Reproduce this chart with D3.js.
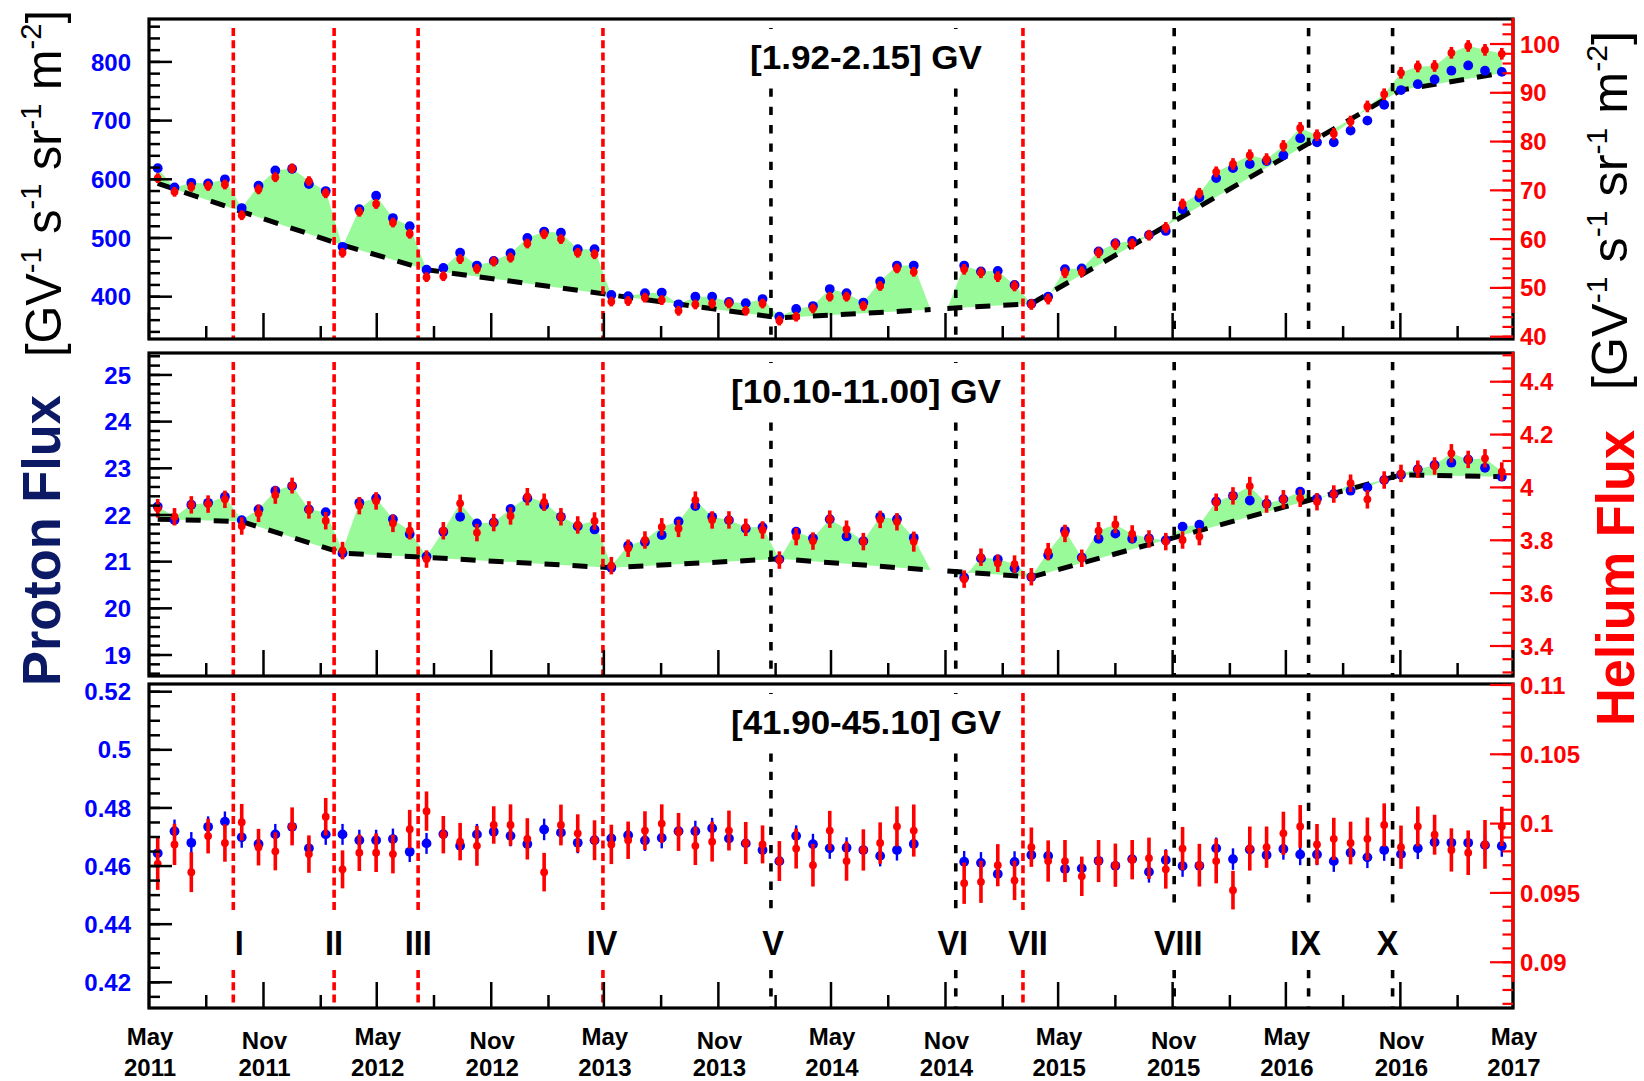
<!DOCTYPE html>
<html>
<head>
<meta charset="utf-8">
<script src="https://cdn.jsdelivr.net/npm/d3@7"></script>
<style>
  html, body { margin: 0; padding: 0; background: #fff; }
  svg { display: block; font-family: "Liberation Sans", Arial, Helvetica, sans-serif; }
</style>
</head>
<body>
<svg id="chart" width="1644" height="1081"></svg>
<script>
// Bartels rotations with measurements (2472 and 2473 are missing)
const rotations = [
  2426,2427,2428,2429,2430,2431,2432,2433,2434,2435,
  2436,2437,2438,2439,2440,2441,2442,2443,2444,2445,
  2446,2447,2448,2449,2450,2451,2452,2453,2454,2455,
  2456,2457,2458,2459,2460,2461,2462,2463,2464,2465,
  2466,2467,2468,2469,2470,2471,
  2474,2475,2476,2477,2478,2479,2480,2481,2482,2483,
  2484,2485,2486,2487,2488,2489,2490,2491,2492,2493,
  2494,2495,2496,2497,2498,2499,2500,2501,2502,2503,
  2504,2505,2506
];

const rigidityBins = ["[1.92-2.15] GV", "[10.10-11.00] GV", "[41.90-45.10] GV"];

// [1.92-2.15] GV
const protonLow = [
  619,586,594,593,600,551,589,615,618,592,
  580,485,549,572,534,520,446,449,475,453,
  461,474,500,511,509,481,481,403,401,406,
  407,387,400,400,391,389,396,366,379,384,
  413,406,390,426,453,453,
  453,443,444,420,388,400,447,448,477,491,
  495,505,512,549,569,602,619,626,631,641,
  670,663,663,683,700,727,752,762,770,785,
  794,785,783
];
const heliumLow = [
  72.5,69.7,70.7,70.9,71.2,64.9,70.2,72.7,74.5,71.9,
  69.4,57.2,65.6,67.2,63.4,61.1,52.2,52.4,55.9,53.9,
  55.4,56.2,59.1,61.0,60.0,57.2,56.9,47.2,47.3,48.0,
  47.5,45.3,46.6,46.8,46.8,45.3,46.8,43.3,44.1,45.8,
  48.2,48.2,46.3,50.4,54.0,53.3,
  53.8,53.1,52.3,50.4,46.6,47.7,53.1,53.3,57.2,58.9,
  59.0,60.8,62.4,67.2,69.4,73.8,75.4,77.2,76.4,79.1,
  82.8,81.3,81.6,84.1,87.2,89.7,94.1,95.4,95.5,98.2,
  99.6,98.8,98.0
];
const heliumLowErr = [
  1.0,1.0,1.0,1.0,1.0,1.0,1.0,1.0,1.0,1.0,
  1.0,1.0,1.0,1.0,1.0,1.0,1.0,1.0,1.0,1.0,
  1.0,1.0,1.0,1.0,1.0,1.0,1.0,1.0,1.0,1.0,
  1.0,1.0,1.0,1.0,1.0,1.0,1.0,1.0,1.0,1.0,
  1.0,1.0,1.0,1.0,1.0,1.0,
  1.1,1.1,1.1,1.1,1.1,1.1,1.1,1.1,1.1,1.1,
  1.1,1.1,1.1,1.1,1.1,1.1,1.2,1.2,1.2,1.2,
  1.2,1.2,1.2,1.2,1.2,1.2,1.2,1.2,1.2,1.2,
  1.2,1.2,1.2
];

// [10.10-11.00] GV
const protonMid = [
  22.18,21.89,22.22,22.26,22.39,21.89,22.12,22.52,22.62,22.12,
  22.06,21.18,22.26,22.36,21.91,21.59,21.11,21.64,21.96,21.82,
  21.84,22.13,22.36,22.21,21.96,21.76,21.69,20.87,21.34,21.42,
  21.57,21.86,22.19,21.96,21.89,21.71,21.74,21.05,21.64,21.50,
  21.91,21.54,21.44,21.96,21.91,21.51,
  20.66,21.07,21.05,20.86,20.67,21.14,21.66,21.09,21.49,21.60,
  21.49,21.50,21.46,21.75,21.79,22.29,22.41,22.31,22.24,22.34,
  22.50,22.35,22.45,22.52,22.59,22.75,22.86,22.98,23.07,23.12,
  23.19,23.01,22.82
];
const heliumMid = [
  3.921,3.889,3.934,3.937,3.955,3.854,3.902,3.971,4.007,3.915,
  3.874,3.761,3.931,3.949,3.864,3.836,3.729,3.836,3.940,3.829,
  3.867,3.892,3.965,3.944,3.889,3.858,3.873,3.704,3.770,3.801,
  3.851,3.845,3.952,3.877,3.877,3.849,3.839,3.725,3.814,3.797,
  3.880,3.842,3.795,3.879,3.870,3.795,
  3.653,3.736,3.713,3.710,3.662,3.757,3.826,3.732,3.836,3.860,
  3.824,3.805,3.795,3.801,3.814,3.944,3.968,4.005,3.937,3.955,
  3.959,3.946,3.975,4.016,3.955,4.028,4.053,4.069,4.081,4.129,
  4.106,4.110,4.060
];
const heliumMidErr = [
  0.035,0.033,0.033,0.033,0.033,0.033,0.033,0.033,0.030,0.033,
  0.033,0.033,0.033,0.033,0.033,0.033,0.033,0.033,0.033,0.033,
  0.033,0.033,0.033,0.033,0.033,0.033,0.033,0.033,0.033,0.033,
  0.033,0.033,0.033,0.033,0.033,0.033,0.033,0.033,0.033,0.033,
  0.033,0.033,0.033,0.033,0.033,0.038,
  0.033,0.033,0.033,0.033,0.033,0.033,0.033,0.033,0.033,0.033,
  0.033,0.033,0.033,0.033,0.033,0.033,0.033,0.035,0.033,0.035,
  0.033,0.033,0.033,0.033,0.035,0.033,0.033,0.033,0.033,0.035,
  0.033,0.035,0.035
];

// [41.90-45.10] GV
const protonHigh = [
  0.4644,0.4720,0.4680,0.4735,0.4753,0.4699,0.4676,0.4709,0.4735,0.4661,
  0.4709,0.4709,0.4689,0.4689,0.4693,0.4649,0.4678,0.4710,0.4670,0.4709,
  0.4718,0.4704,0.4676,0.4726,0.4715,0.4680,0.4689,0.4695,0.4706,0.4688,
  0.4697,0.4720,0.4720,0.4730,0.4695,0.4678,0.4655,0.4617,0.4704,0.4675,
  0.4661,0.4663,0.4655,0.4635,0.4655,0.4676,
  0.4615,0.4611,0.4573,0.4614,0.4638,0.4635,0.4590,0.4592,0.4618,0.4601,
  0.4624,0.4580,0.4621,0.4600,0.4601,0.4661,0.4624,0.4657,0.4638,0.4659,
  0.4640,0.4640,0.4617,0.4646,0.4630,0.4655,0.4641,0.4661,0.4682,0.4680,
  0.4680,0.4672,0.4669
];
const protonHighErr = [
  0.0036,0.0040,0.0037,0.0036,0.0035,0.0036,0.0036,0.0036,0.0036,0.0036,
  0.0036,0.0036,0.0036,0.0036,0.0036,0.0035,0.0036,0.0036,0.0036,0.0036,
  0.0036,0.0036,0.0036,0.0037,0.0036,0.0036,0.0036,0.0036,0.0036,0.0036,
  0.0036,0.0036,0.0036,0.0036,0.0036,0.0036,0.0036,0.0036,0.0036,0.0036,
  0.0036,0.0036,0.0036,0.0036,0.0036,0.0036,
  0.0037,0.0037,0.0037,0.0037,0.0037,0.0037,0.0037,0.0037,0.0037,0.0037,
  0.0037,0.0037,0.0037,0.0037,0.0037,0.0037,0.0037,0.0037,0.0037,0.0037,
  0.0037,0.0037,0.0037,0.0037,0.0037,0.0037,0.0037,0.0037,0.0037,0.0037,
  0.0037,0.0037,0.0037
];
const heliumHigh = [
  0.0971,0.0985,0.0965,0.0991,0.0986,0.1001,0.0983,0.0980,0.0998,0.0978,
  0.1005,0.0967,0.0979,0.0979,0.0978,0.0996,0.1009,0.0992,0.0987,0.0984,
  0.0999,0.0999,0.0989,0.0965,0.0999,0.0993,0.0988,0.0985,0.0988,0.0995,
  0.1000,0.0994,0.0984,0.0987,0.0995,0.0986,0.0985,0.0973,0.0982,0.0970,
  0.0995,0.0973,0.0981,0.0986,0.0998,0.0995,
  0.0957,0.0958,0.0970,0.0959,0.0983,0.0973,0.0973,0.0962,0.0973,0.0970,
  0.0974,0.0975,0.0967,0.0982,0.0970,0.0973,0.0952,0.0982,0.0983,0.0993,
  0.0998,0.0985,0.0989,0.0986,0.0989,0.0999,0.0983,0.0998,0.0992,0.0981,
  0.0979,0.0985,0.0998
];
const heliumHighErr = [
  0.00188,0.00149,0.00144,0.00125,0.00135,0.00132,0.00132,0.00137,0.00137,0.00135,
  0.00135,0.00137,0.00132,0.00139,0.00139,0.00139,0.00142,0.00135,0.00135,0.00144,
  0.00135,0.00149,0.00149,0.00139,0.00147,0.00137,0.00144,0.00142,0.00135,0.00139,
  0.00139,0.00137,0.00139,0.00144,0.00144,0.00152,0.00137,0.00144,0.00144,0.00154,
  0.00142,0.00142,0.00149,0.00149,0.00144,0.00188,
  0.00149,0.00152,0.00152,0.00142,0.00142,0.00149,0.00152,0.00142,0.00152,0.00156,
  0.00142,0.00149,0.00139,0.00156,0.00154,0.00161,0.00139,0.00159,0.00149,0.00156,
  0.00154,0.00147,0.00152,0.00154,0.00154,0.00156,0.00156,0.00144,0.00144,0.00156,
  0.00161,0.00176,0.00142
];

// Proton reference trend (black dashed) at its break points, in proton units
const baseRotations = [2426, 2431, 2437, 2442, 2453, 2463, 2472, 2473, 2478, 2500, 2506];
const baselineLow = [593, 545, 488, 446, 403, 364, 378, 380, 388, 752, 781];
const baselineMid = [21.91, 21.86, 21.18, 21.09, 20.87, 21.06, 20.82, 20.80, 20.67, 22.86, 22.82];

// Shaded structures between consecutive break points
const bandSegments = [
  [2426, 2431], [2431, 2437], [2437, 2442], [2442, 2453],
  [2453, 2463], [2463, 2472], [2473, 2478], [2478, 2506]
];

// Marked time boundaries
const eventRotations = [2430.5, 2436.5, 2441.5, 2452.5, 2462.5, 2473.5, 2477.5, 2486.5, 2494.5, 2499.5];
const eventLabels = ["I", "II", "III", "IV", "V", "VI", "VII", "VIII", "IX", "X"];
const eventColors = ["red", "red", "red", "red", "black", "black", "red", "black", "black", "black"];

// ---------------------------------------------------------------------------
const DAY = 86400000;
const BLUE = "#0000ff", RED = "#ff0000", GREEN = "#99fa99";
const bartelsDate = br => new Date(Date.UTC(1832, 1, 8) + 27 * (br - 1) * DAY);

const plotLeft = 149, plotRight = 1513;
const x = d3.scaleUtc()
  .domain([new Date(Date.UTC(2011, 4, 1)), new Date(Date.UTC(2017, 4, 1))])
  .range([plotLeft, plotRight]);
const xb = br => x(bartelsDate(br));

// horizontal nudges of the event labels relative to their boundary lines (px)
const labelNudge = [6, 0, 0, -1, 2, -3, 5, 4, -3, -5];

const svg = d3.select("#chart");

function stepValues(lo, hi, step) {
  const out = [];
  const i0 = Math.ceil(lo / step - 1e-6), i1 = Math.floor(hi / step + 1e-6);
  for (let i = i0; i <= i1; i++) out.push(+(i * step).toFixed(6));
  return out;
}

const panels = [
  { top: 19, bottom: 339, title: rigidityBins[0], titleWidth: 232,
    proton: protonLow, helium: heliumLow, protonErr: null, heliumErr: heliumLowErr, baseline: baselineLow,
    pDomain: [327.9, 873.1], pMajor: [400, 800, 100], pMinor: 20, pFormat: d3.format(".0f"),
    hDomain: [39.52, 105.13], hMajor: [40, 100, 10], hMinor: 2, hFormat: d3.format(".0f") },
  { top: 353, bottom: 676, title: rigidityBins[1], titleWidth: 270,
    proton: protonMid, helium: heliumMid, protonErr: null, heliumErr: heliumMidErr, baseline: baselineMid,
    pDomain: [18.55, 25.47], pMajor: [19, 25, 1], pMinor: 0.2, pFormat: d3.format(".0f"),
    hDomain: [3.2865, 4.5086], hMajor: [3.4, 4.4, 0.2], hMinor: 0.05, hFormat: d3.format(".1~f") },
  { top: 684, bottom: 1008, title: rigidityBins[2], titleWidth: 270,
    proton: protonHigh, helium: heliumHigh, protonErr: protonHighErr, heliumErr: heliumHighErr, baseline: null,
    pDomain: [0.41116, 0.52265], pMajor: [0.42, 0.52, 0.02], pMinor: 0.005, pFormat: d3.format(".2~f"),
    hDomain: [0.0867, 0.11007], hMajor: [0.09, 0.11, 0.005], hMinor: 0.001, hFormat: d3.format(".3~f") }
];

const titleCenter = 866;
const tickMonths = d3.utcMonth.range(new Date(Date.UTC(2011, 4, 1)), new Date(Date.UTC(2017, 4, 2)), 3);
const isMajorMonth = d => d.getUTCMonth() === 4 || d.getUTCMonth() === 10;

panels.forEach((p, pi) => {
  const g = svg.append("g");
  const yP = d3.scaleLinear().domain(p.pDomain).range([p.bottom, p.top]);
  const yH = d3.scaleLinear().domain(p.hDomain).range([p.bottom, p.top]);
  const titleBase = p.top + 49.5;
  const isLast = pi === panels.length - 1;

  // shaded structures and reference trend
  if (p.baseline) {
    const base = d3.scaleLinear().domain(baseRotations).range(p.baseline);
    const area = d3.area().x(d => d.x).y0(d => d.y0).y1(d => d.y1);
    bandSegments.forEach(([a, b]) => {
      const pts = d3.range(a, b + 1).map(br => {
        const i = rotations.indexOf(br);
        const yb = yP(base(br));
        const yt = i >= 0 ? Math.min(yP(p.proton[i]), yH(p.helium[i])) : yb;
        return { x: xb(br), y0: yb, y1: yt };
      });
      g.append("path").attr("d", area(pts)).attr("fill", GREEN);
    });
    const runs = [];
    bandSegments.forEach(([a, b]) => {
      const r = runs[runs.length - 1];
      if (r && r[1] === a) r[1] = b; else runs.push([a, b]);
    });
    const line = d3.line().x(br => xb(br)).y(br => yP(base(br)));
    runs.forEach(([a, b]) => {
      g.append("path")
        .attr("d", line(baseRotations.filter(br => br >= a && br <= b)))
        .attr("fill", "none").attr("stroke", "#000").attr("stroke-width", 5)
        .attr("stroke-dasharray", "15,13");
    });
  }

  // event boundaries, interrupted behind the title and the event labels
  eventRotations.forEach((br, ei) => {
    const ex = xb(br);
    const gaps = [];
    if (Math.abs(ex - titleCenter) < p.titleWidth / 2 + 6) gaps.push([titleBase - 39.5, titleBase + 20]);
    if (isLast) gaps.push([p.bottom - 98, p.bottom - 38]);
    gaps.sort((a, b) => a[0] - b[0]);
    let y0 = p.top + 9;
    const segs = [];
    gaps.forEach(([a, b]) => { if (a > y0) segs.push([y0, a]); y0 = Math.max(y0, b); });
    segs.push([y0, p.bottom]);
    const red = eventColors[ei] === "red";
    segs.forEach(([a, b]) => {
      g.append("line").attr("x1", ex).attr("x2", ex).attr("y1", a).attr("y2", b)
        .attr("stroke", red ? RED : "#000").attr("stroke-width", 3.6)
        .attr("stroke-dasharray", red ? "8,4.3" : "8.3,10");
    });
  });

  // proton points
  if (p.protonErr) {
    g.selectAll(null).data(rotations).join("line")
      .attr("x1", d => xb(d)).attr("x2", d => xb(d))
      .attr("y1", (d, i) => yP(p.proton[i] - p.protonErr[i]))
      .attr("y2", (d, i) => yP(p.proton[i] + p.protonErr[i]))
      .attr("stroke", BLUE).attr("stroke-width", 2.4);
  }
  g.selectAll(null).data(rotations).join("circle")
    .attr("cx", d => xb(d)).attr("cy", (d, i) => yP(p.proton[i]))
    .attr("r", 4.9).attr("fill", BLUE);

  // helium points
  g.selectAll(null).data(rotations).join("line")
    .attr("x1", d => xb(d)).attr("x2", d => xb(d))
    .attr("y1", (d, i) => yH(p.helium[i] - p.heliumErr[i]))
    .attr("y2", (d, i) => yH(p.helium[i] + p.heliumErr[i]))
    .attr("stroke", RED).attr("stroke-width", 3.6);
  g.selectAll(null).data(rotations).join("circle")
    .attr("cx", d => xb(d)).attr("cy", (d, i) => yH(p.helium[i]))
    .attr("r", 3.9).attr("fill", RED);

  // time ticks
  g.selectAll(null).data(tickMonths).join("line")
    .attr("x1", d => x(d)).attr("x2", d => x(d))
    .attr("y1", p.bottom).attr("y2", d => p.bottom - (isMajorMonth(d) ? 26 : 13))
    .attr("stroke", "#000").attr("stroke-width", 2.5);

  // proton axis (left)
  stepValues(p.pDomain[0], p.pDomain[1], p.pMinor).forEach(v => {
    g.append("line").attr("x1", plotLeft).attr("x2", plotLeft + 11).attr("y1", yP(v)).attr("y2", yP(v))
      .attr("stroke", "#000").attr("stroke-width", 2.5);
  });
  stepValues(p.pMajor[0], p.pMajor[1], p.pMajor[2]).forEach(v => {
    g.append("line").attr("x1", plotLeft).attr("x2", plotLeft + 23).attr("y1", yP(v)).attr("y2", yP(v))
      .attr("stroke", "#000").attr("stroke-width", 2.5);
    g.append("text").attr("x", 131).attr("y", yP(v) + 8.6).attr("text-anchor", "end")
      .attr("font-size", 24).attr("font-weight", "bold").attr("fill", BLUE).text(p.pFormat(v));
  });

  // frame
  g.append("rect").attr("x", plotLeft).attr("y", p.top)
    .attr("width", plotRight - plotLeft).attr("height", p.bottom - p.top)
    .attr("fill", "none").attr("stroke", "#000").attr("stroke-width", 3.2);

  // helium axis (right)
  g.append("line").attr("x1", plotRight).attr("x2", plotRight).attr("y1", p.top - 1).attr("y2", p.bottom - 26)
    .attr("stroke", RED).attr("stroke-width", 3);
  stepValues(p.hDomain[0], p.hDomain[1], p.hMinor).forEach(v => {
    g.append("line").attr("x1", plotRight).attr("x2", plotRight - 10.5).attr("y1", yH(v)).attr("y2", yH(v))
      .attr("stroke", RED).attr("stroke-width", 2.2);
  });
  stepValues(p.hMajor[0], p.hMajor[1], p.hMajor[2]).forEach(v => {
    g.append("line").attr("x1", plotRight).attr("x2", plotRight - 23).attr("y1", yH(v)).attr("y2", yH(v))
      .attr("stroke", RED).attr("stroke-width", 2.2);
    g.append("text").attr("x", 1520).attr("y", yH(v) + 8.6)
      .attr("font-size", 24).attr("font-weight", "bold").attr("fill", RED).text(p.hFormat(v));
  });

  // rigidity bin
  g.append("text").attr("x", titleCenter).attr("y", titleBase).attr("text-anchor", "middle")
    .attr("font-size", 32.5).attr("font-weight", "bold").attr("fill", "#000")
    .attr("textLength", p.titleWidth).attr("lengthAdjust", "spacingAndGlyphs").text(p.title);

  // event labels and time axis labels below the last panel
  if (isLast) {
    eventRotations.forEach((br, ei) => {
      g.append("text").attr("transform", `translate(${xb(br) + labelNudge[ei]},${p.bottom - 53}) scale(0.9,1)`)
        .attr("text-anchor", "middle").attr("font-size", 36).attr("font-weight", "bold")
        .attr("fill", "#000").text(eventLabels[ei]);
    });
    tickMonths.filter(isMajorMonth).forEach(d => {
      const cx = x(d) + 1;
      g.append("text").attr("x", cx).attr("y", d.getUTCMonth() === 4 ? 1044.5 : 1049)
        .attr("text-anchor", "middle").attr("font-size", 24).attr("font-weight", "bold")
        .text(d3.utcFormat("%b")(d));
      g.append("text").attr("x", cx).attr("y", 1075.5)
        .attr("text-anchor", "middle").attr("font-size", 24).attr("font-weight", "bold")
        .text(d3.utcFormat("%Y")(d));
    });
  }
});

// axis titles
function unitTitle(tx, ty, len) {
  const t = svg.append("text").attr("transform", `translate(${tx},${ty}) rotate(-90)`)
    .attr("font-size", 50).attr("fill", "#000")
    .attr("textLength", len).attr("lengthAdjust", "spacingAndGlyphs");
  const parts = [["[GV", false], ["-1", true], [" s", false], ["-1", true], [" sr", false], ["-1", true],
                 [" m", false], ["-2", true], ["]", false]];
  let raised = false;
  parts.forEach(([s, sup]) => {
    const ts = t.append("tspan").text(s);
    if (sup) { ts.attr("font-size", 30).attr("dy", raised ? 0 : -20); raised = true; }
    else { ts.attr("dy", raised ? 20 : 0); raised = false; }
  });
}

svg.append("text").attr("transform", "translate(60,540.5) rotate(-90)").attr("text-anchor", "middle")
  .attr("font-size", 53).attr("font-weight", "bold").attr("fill", "#0c1a66")
  .attr("textLength", 291).attr("lengthAdjust", "spacingAndGlyphs").text("Proton Flux");
unitTitle(61, 357, 347);

svg.append("text").attr("transform", "translate(1634,578) rotate(-90)").attr("text-anchor", "middle")
  .attr("font-size", 53).attr("font-weight", "bold").attr("fill", RED)
  .attr("textLength", 296).attr("lengthAdjust", "spacingAndGlyphs").text("Helium Flux");
unitTitle(1627, 390, 359);
</script>
</body>
</html>
